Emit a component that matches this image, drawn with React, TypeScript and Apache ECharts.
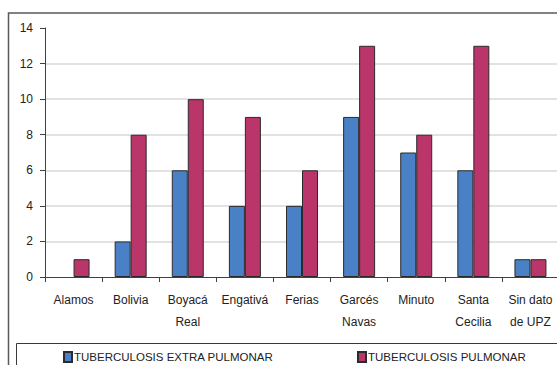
import React, { useEffect, useRef } from "react";
import * as echarts from "echarts";

const categories = [
  "Alamos",
  "Bolivia",
  "Boyacá\nReal",
  "Engativá",
  "Ferias",
  "Garcés\nNavas",
  "Minuto",
  "Santa\nCecilia",
  "Sin dato\nde UPZ",
];
const extraPulmonar = [0, 2, 6, 4, 4, 9, 7, 6, 1];
const pulmonar = [1, 8, 10, 9, 6, 13, 8, 13, 1];
const seriesNames = ["TUBERCULOSIS EXTRA PULMONAR", "TUBERCULOSIS PULMONAR"];
const colors = ["#4A80C6", "#B9356A"];

const toData = (arr: number[]) =>
  arr.map((v) => (v === 0 ? { value: v, itemStyle: { borderWidth: 0 } } : v));

export default function App() {
  const ref = useRef<HTMLDivElement>(null);
  useEffect(() => {
    if (!ref.current) return;
    const chart = echarts.init(ref.current, undefined, { renderer: "svg" });
    const font = "Liberation Sans, Arial, sans-serif";
    const legendText = { fontSize: 11.5, color: "#222", fontFamily: font, padding: [0, 0, 0, -3] };
    chart.setOption({
      animation: false,
      backgroundColor: "#ffffff",
      textStyle: { fontFamily: font },
      grid: { left: 45, top: 28, bottom: 88, width: 514 },
      legend: [
        {
          data: [seriesNames[0]],
          left: 58,
          top: 346,
          itemWidth: 8,
          itemHeight: 10,
          icon: "rect",
          textStyle: legendText,
        },
        {
          data: [seriesNames[1]],
          left: 352,
          top: 346,
          itemWidth: 8,
          itemHeight: 10,
          icon: "rect",
          textStyle: legendText,
        },
      ],
      graphic: [
        {
          type: "rect",
          shape: { x: 8.5, y: 13, width: 700, height: 500 },
          style: { fill: "none", stroke: "#5a5a5a", lineWidth: 1.5 },
          z: -1,
        },
        {
          type: "rect",
          shape: { x: 16.5, y: 343.5, width: 700, height: 100 },
          style: { fill: "none", stroke: "#3a3a3a", lineWidth: 1 },
          z: -1,
        },
      ],
      xAxis: {
        type: "category",
        data: categories,
        axisLine: { show: true, lineStyle: { color: "#404040", width: 1 } },
        axisTick: { show: true, alignWithLabel: false, length: 5, lineStyle: { color: "#404040" } },
        axisLabel: {
          fontSize: 12,
          color: "#222",
          margin: 12,
          lineHeight: 22,
          interval: 0,
          fontFamily: font,
        },
      },
      yAxis: {
        type: "value",
        min: 0,
        max: 14,
        interval: 2,
        axisLine: { show: true, lineStyle: { color: "#404040", width: 1 } },
        axisTick: { show: true, length: 5, lineStyle: { color: "#404040" } },
        axisLabel: { fontSize: 12, color: "#222", margin: 12, fontFamily: font },
        splitLine: {
          show: true,
          showMaxLine: false,
          showMinLine: false,
          lineStyle: { color: "#d9d9d9", width: 1.5 },
        },
      },
      series: [
        {
          name: seriesNames[0],
          type: "bar",
          data: toData(extraPulmonar),
          barWidth: 16,
          barGap: "0%",
          itemStyle: { color: colors[0], borderColor: "#2b2b2b", borderWidth: 1 },
        },
        {
          name: seriesNames[1],
          type: "bar",
          data: toData(pulmonar),
          barWidth: 16,
          barGap: "0%",
          itemStyle: { color: colors[1], borderColor: "#2b2b2b", borderWidth: 1 },
        },
      ],
    });
    return () => chart.dispose();
  }, []);
  return (
    <div
      style={{
        position: "absolute",
        left: 0,
        top: 0,
        width: 557,
        height: 365,
        overflow: "hidden",
        background: "#fff",
      }}
    >
      <div ref={ref} style={{ width: 600, height: 365 }} />
    </div>
  );
}
